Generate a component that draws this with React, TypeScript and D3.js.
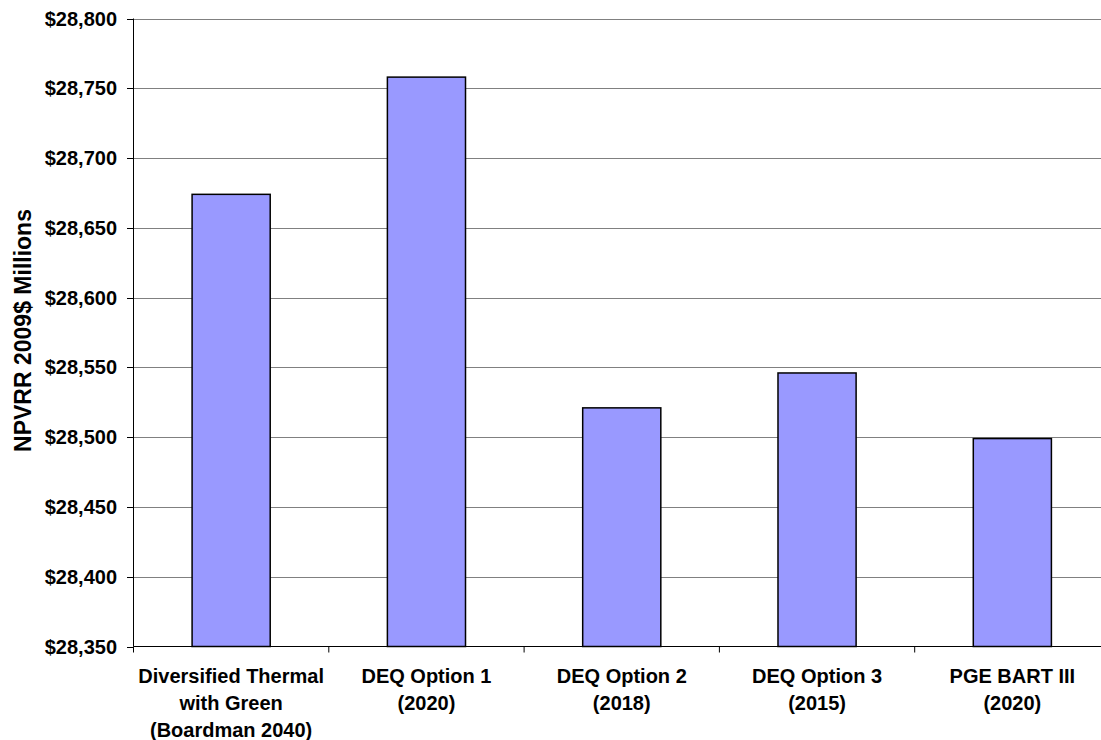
import React from "react";
import * as d3 from "d3";

const categories: string[][] = [
  ["Diversified Thermal", "with Green", "(Boardman 2040)"],
  ["DEQ Option 1", "(2020)"],
  ["DEQ Option 2", "(2018)"],
  ["DEQ Option 3", "(2015)"],
  ["PGE BART III", "(2020)"],
];
const values: number[] = [28674, 28758, 28521, 28546, 28499];
const yTicks: number[] = [28350, 28400, 28450, 28500, 28550, 28600, 28650, 28700, 28750, 28800];
const yTitle = "NPVRR 2009$ Millions";

const W = 1101;
const H = 740;
const left = 133.5;
const right = 1110;
const top = 18.5;
const bottom = 646.5;
const font = "'Liberation Sans', Arial, sans-serif";

export default function App() {
  const x = d3
    .scaleBand<number>()
    .domain(d3.range(categories.length))
    .range([left, right])
    .paddingInner(0.6)
    .paddingOuter(0.3);
  const step = x.step();
  const y = d3.scaleLinear().domain([28350, 28800]).range([bottom, top]);
  const fmt = (v: number) => "$" + d3.format(",")(v);

  return (
    <svg
      width={W}
      height={H}
      style={{ position: "fixed", left: 0, top: 0, background: "#fff" }}
      fontFamily={font}
    >
      <rect x={0} y={0} width={W} height={H} fill="#fff" />
      {yTicks.map((t) => (
        <g key={t}>
          {t !== 28350 && (
            <line x1={left} x2={W} y1={Math.round(y(t)) + 0.5} y2={Math.round(y(t)) + 0.5} stroke="#808080" strokeWidth={1} />
          )}
          <line x1={127} x2={left} y1={Math.round(y(t)) + 0.5} y2={Math.round(y(t)) + 0.5} stroke="#000" strokeWidth={1} />
          <text
            x={117}
            y={y(t)}
            dy="0.35em"
            textAnchor="end"
            fontSize={20}
            fontWeight="bold"
            fill="#000"
          >
            {fmt(t)}
          </text>
        </g>
      ))}
      {values.map((v, i) => (
        <rect
          key={i}
          x={x(i)!}
          y={y(v)}
          width={x.bandwidth()}
          height={y(28350) - y(v)}
          fill="#9999FF"
          stroke="#000"
          strokeWidth={1.5}
        />
      ))}
      <line x1={left} x2={W} y1={bottom} y2={bottom} stroke="#000" strokeWidth={1} />
      <line x1={left} x2={left} y1={top} y2={bottom} stroke="#000" strokeWidth={1} />
      {d3.range(categories.length + 1).map((i) => (
        <line
          key={i}
          x1={left + i * step}
          x2={left + i * step}
          y1={bottom}
          y2={bottom + 6}
          stroke="#000"
          strokeWidth={1}
        />
      ))}
      {categories.map((lines, i) => (
        <text
          key={i}
          x={x(i)! + x.bandwidth() / 2}
          y={683}
          textAnchor="middle"
          fontSize={20}
          fontWeight="bold"
          fill="#000"
        >
          {lines.map((l, j) => (
            <tspan key={j} x={x(i)! + x.bandwidth() / 2} dy={j === 0 ? 0 : 27}>
              {l}
            </tspan>
          ))}
        </text>
      ))}
      <text
        transform={`translate(31, ${(top + bottom) / 2 - 2}) rotate(-90)`}
        textAnchor="middle"
        fontSize={23}
        fontWeight="bold"
        fill="#000"
      >
        {yTitle}
      </text>
    </svg>
  );
}
